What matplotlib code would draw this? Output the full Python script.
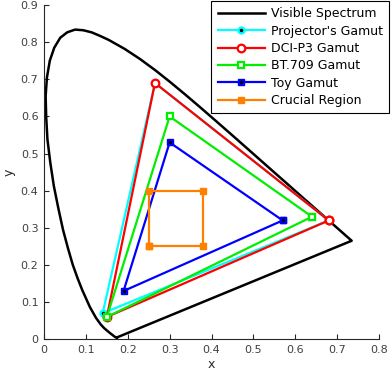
import matplotlib
matplotlib.use("Agg")
import matplotlib.pyplot as plt
from matplotlib.legend_handler import HandlerTuple

# spectral locus (chromaticity x, y), 380 nm -> 700 nm
locus_x = [0.1741, 0.1733, 0.1714, 0.1689, 0.1644, 0.1566, 0.1440, 0.1355,
           0.1241, 0.1096, 0.0913, 0.0800, 0.0687, 0.0570, 0.0454, 0.0342,
           0.0235, 0.0150, 0.0082, 0.0053, 0.0039, 0.0070, 0.0139, 0.0245,
           0.0389, 0.0555, 0.0743, 0.0940, 0.1142, 0.1345, 0.1547, 0.1929,
           0.2296, 0.2658, 0.3016, 0.3373, 0.3731, 0.4087, 0.4441, 0.4788,
           0.5125, 0.5448, 0.5752, 0.6029, 0.6270, 0.6658, 0.6915, 0.7079,
           0.7190, 0.7260, 0.7300, 0.7334, 0.7347]
locus_y = [0.0050, 0.0048, 0.0051, 0.0069, 0.0109, 0.0177, 0.0297, 0.0399,
           0.0578, 0.0868, 0.1327, 0.1650, 0.2007, 0.2460, 0.2950, 0.3530,
           0.4127, 0.4760, 0.5384, 0.5975, 0.6548, 0.7050, 0.7502, 0.7850,
           0.8120, 0.8265, 0.8338, 0.8320, 0.8262, 0.8165, 0.8059, 0.7816,
           0.7543, 0.7243, 0.6923, 0.6589, 0.6245, 0.5896, 0.5547, 0.5202,
           0.4866, 0.4544, 0.4242, 0.3965, 0.3725, 0.3340, 0.3083, 0.2920,
           0.2809, 0.2740, 0.2700, 0.2666, 0.2653]

# gamut primaries R, G, B
projector_x = [0.68, 0.265, 0.14]
projector_y = [0.32, 0.69, 0.07]
dcip3_x = [0.68, 0.265, 0.15]
dcip3_y = [0.32, 0.69, 0.06]
bt709_x = [0.64, 0.30, 0.15]
bt709_y = [0.33, 0.60, 0.06]
toy_x = [0.57, 0.30, 0.19]
toy_y = [0.32, 0.53, 0.13]
crucial_x = [0.25, 0.38, 0.38, 0.25]
crucial_y = [0.25, 0.25, 0.40, 0.40]


def closed(v):
    return list(v) + [v[0]]


fig = plt.figure(figsize=(3.91, 3.79), dpi=100)
ax = fig.add_axes([44 / 391, 39.7 / 379, 335 / 391, 334.3 / 379])

lw = 1.6
h_vis, = ax.plot(closed(locus_x), closed(locus_y), color="k", lw=1.8,
                 solid_joinstyle="round")

h_proj, = ax.plot(closed(projector_x), closed(projector_y), color="cyan", lw=lw,
                  marker="o", ms=5, mfc="cyan", mec="cyan")
d_proj, = ax.plot(projector_x, projector_y, ls="none", marker=".", ms=3, color="k")

h_p3, = ax.plot(closed(dcip3_x), closed(dcip3_y), color="red", lw=lw,
                marker="o", ms=5.5, mfc="white", mec="red", mew=1.6)

h_709, = ax.plot(closed(bt709_x), closed(bt709_y), color="#00ee00", lw=lw,
                 marker="s", ms=5, mfc="white", mec="#00ee00", mew=1.6)

h_toy, = ax.plot(closed(toy_x), closed(toy_y), color="blue", lw=lw,
                 marker="s", ms=5, mfc="blue", mec="blue")
d_toy, = ax.plot(toy_x, toy_y, ls="none", marker=".", ms=3, color="k")

h_cr, = ax.plot(closed(crucial_x), closed(crucial_y), color="#ff8000", lw=lw,
                marker="s", ms=4.5, mfc="#ff8000", mec="#ff8000")

ax.set_xlim(0, 0.8)
ax.set_ylim(0, 0.9)
ax.set_xticks([0, 0.1, 0.2, 0.3, 0.4, 0.5, 0.6, 0.7, 0.8])
ax.set_xticklabels(["0", "0.1", "0.2", "0.3", "0.4", "0.5", "0.6", "0.7", "0.8"])
ax.set_yticks([0, 0.1, 0.2, 0.3, 0.4, 0.5, 0.6, 0.7, 0.8, 0.9])
ax.set_yticklabels(["0", "0.1", "0.2", "0.3", "0.4", "0.5", "0.6", "0.7", "0.8", "0.9"])
ax.spines["top"].set_visible(False)
ax.spines["right"].set_visible(False)
for s in ["left", "bottom"]:
    ax.spines[s].set_color("#262626")
    ax.spines[s].set_linewidth(0.8)
ax.tick_params(direction="in", length=3.5, width=0.8, colors="#262626",
               labelsize=8, labelcolor="#404040", pad=4)
ax.set_xlabel("x", fontsize=9, color="#262626", labelpad=2)
ax.set_ylabel("y", fontsize=9, color="#262626", labelpad=4)

leg = ax.legend(
    [h_vis, (h_proj, d_proj), h_p3, h_709, (h_toy, d_toy), h_cr],
    ["Visible Spectrum", "Projector's Gamut", "DCI-P3 Gamut", "BT.709 Gamut",
     "Toy Gamut", "Crucial Region"],
    handler_map={tuple: HandlerTuple(ndivide=1, pad=0)},
    loc="upper right", bbox_to_anchor=(389 / 391, 1 - 1 / 379),
    bbox_transform=fig.transFigure, borderaxespad=0, fontsize=9,
    handlelength=3.8, handletextpad=0.45, labelspacing=0.35,
    borderpad=0.5, fancybox=False, framealpha=1, edgecolor="k",
)
leg.get_frame().set_linewidth(0.8)

fig.savefig("out.png", dpi=100)
